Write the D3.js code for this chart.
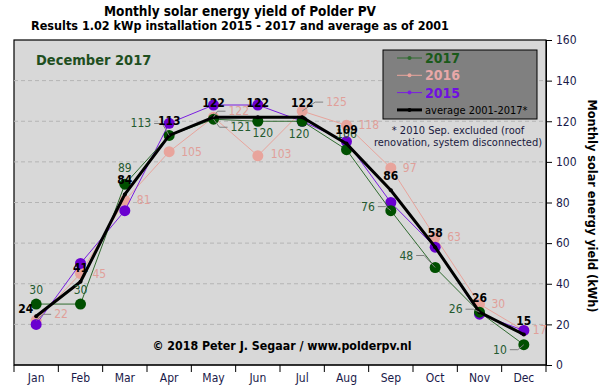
<!DOCTYPE html>
<html>
<head>
<meta charset="utf-8">
<script src="https://cdn.jsdelivr.net/npm/d3@7"></script>
<style>
  body { margin: 0; background: #fff; }
  svg { font-family: "DejaVu Sans Condensed", "DejaVu Sans", Verdana, sans-serif; font-stretch: condensed; }
</style>
</head>
<body>
<div id="chart"></div>
<script>
// data
const months = ["Jan", "Feb", "Mar", "Apr", "May", "Jun", "Jul", "Aug", "Sep", "Oct", "Nov", "Dec"];
const y2017 = [30, 30, 89, 113, 121, 120, 120, 106, 76, 48, 26, 10];
const y2016 = [22, 45, 81, 105, 122, 103, 125, 118, 97, 63, 30, 17];
const y2015 = [20, 50, 76, 119, 128, 128, 120, 110, 80, 58, 25, 17];
const average = [24, 41, 84, 113, 122, 122, 122, 109, 86, 58, 26, 15];
const yTicks = [0, 20, 40, 60, 80, 100, 120, 140, 160];

const W = 611, H = 391;
const plot = { left: 14, right: 546, top: 40, bottom: 365 };

const svg = d3.select("#chart").append("svg")
    .attr("width", W).attr("height", H);

let xScale = d3.scaleBand().domain(months).range([plot.left, plot.right]).padding(0);
let cx = m => xScale(m) + xScale.bandwidth() / 2;
let yScale = d3.scaleLinear().domain([0, 160]).range([plot.bottom, plot.top]);

// plot background
svg.append("rect")
    .attr("x", plot.left).attr("y", plot.top)
    .attr("width", plot.right - plot.left).attr("height", plot.bottom - plot.top)
    .attr("fill", "#d8d8d8").attr("stroke", "#000").attr("stroke-width", 1.2);

// grid lines
svg.append("g").selectAll("line")
    .data(yTicks.filter(t => t > 0 && t < 160))
    .enter().append("line")
    .attr("x1", plot.left).attr("x2", plot.right)
    .attr("y1", d => yScale(d)).attr("y2", d => yScale(d))
    .attr("stroke", "#b4b4b4").attr("stroke-dasharray", "4,3");

// right axis
let yAxis = d3.axisRight(yScale).tickValues(yTicks).tickSize(6).tickPadding(4);
let gy = svg.append("g").attr("transform", "translate(" + plot.right + ",0)").call(yAxis);
gy.select(".domain").attr("stroke", "#000");
gy.selectAll(".tick line").attr("stroke", "#000");
gy.selectAll(".tick text").attr("fill", "#1a1a4a").style("font-size", "12px")
    .style("font-family", "DejaVu Sans Condensed");

// bottom axis: ticks between months
let gx = svg.append("g");
gx.append("line").attr("x1", plot.left).attr("x2", plot.right)
    .attr("y1", plot.bottom).attr("y2", plot.bottom).attr("stroke", "#000");
gx.selectAll(".sep").data(months.concat(["end"])).enter().append("line")
    .attr("x1", (d, i) => i < 12 ? xScale(d) : plot.right)
    .attr("x2", (d, i) => i < 12 ? xScale(d) : plot.right)
    .attr("y1", plot.bottom).attr("y2", plot.bottom + 7)
    .attr("stroke", "#000");
gx.selectAll(".lab").data(months).enter().append("text")
    .attr("x", d => cx(d)).attr("y", plot.bottom + 17)
    .attr("text-anchor", "middle")
    .attr("fill", "#1a1a4a").style("font-size", "12px")
    .text(d => d);

// titles
svg.append("text").attr("x", 240).attr("y", 16).attr("text-anchor", "middle")
    .style("font-size", "13.5px").style("font-weight", "bold")
    .text("Monthly solar energy yield of Polder PV");
svg.append("text").attr("x", 240).attr("y", 30).attr("text-anchor", "middle")
    .style("font-size", "12.5px").style("font-weight", "bold")
    .text("Results 1.02 kWp installation  2015 - 2017 and average as of 2001");

svg.append("text")
    .attr("transform", "translate(588,206) rotate(90)")
    .attr("text-anchor", "middle")
    .attr("textLength", 213).attr("lengthAdjust", "spacingAndGlyphs")
    .style("font-size", "11.5px").style("font-weight", "bold")
    .text("Monthly solar energy yield (kWh)");

svg.append("text").attr("x", 36).attr("y", 65)
    .attr("fill", "#1f4f1f").style("font-size", "14.5px").style("font-weight", "bold")
    .text("December 2017");

svg.append("text").attr("x", 282).attr("y", 350).attr("text-anchor", "middle")
    .style("font-size", "12.3px").style("font-weight", "bold")
    .text("\u00a9 2018 Peter J. Segaar / www.polderpv.nl");

// series
let line = d3.line()
    .x((d, i) => cx(months[i]))
    .y(d => yScale(d));

const series = [
    { name: "2016", values: y2016, color: "#e8a49c", dot: "#e8a49c" },
    { name: "2015", values: y2015, color: "#7a1ee0", dot: "#6a00d0" },
    { name: "2017", values: y2017, color: "#2f6a2f", dot: "#005000" }
];

series.forEach(s => {
    svg.append("path")
        .attr("d", line(s.values))
        .attr("fill", "none").attr("stroke", s.color).attr("stroke-width", 1);
    svg.append("g").selectAll("circle").data(s.values).enter().append("circle")
        .attr("cx", (d, i) => cx(months[i]))
        .attr("cy", d => yScale(d))
        .attr("r", 5.5)
        .attr("fill", s.dot);
});

svg.append("path")
    .attr("d", line(average))
    .attr("fill", "none").attr("stroke", "#000").attr("stroke-width", 3);
svg.append("g").selectAll("circle").data(average).enter().append("circle")
    .attr("cx", (d, i) => cx(months[i]))
    .attr("cy", d => yScale(d))
    .attr("r", 2).attr("fill", "#000");

// labels: [dx, dy, anchor, leader line]
let greenPlace = { Jan: [0, -10, "middle"], Feb: [0, -10, "middle"], Mar: [0, -12, "middle"],
    Apr: [-18, -8, "end", true], May: [17, 12, "start", true], Jun: [5, 16, "middle"],
    Jul: [-3, 17, "middle"], Aug: [0, -12, "middle"], Sep: [-16, 0, "end", true],
    Oct: [-22, -8, "end", true], Nov: [-17, 1, "end", true], Dec: [-17, 9, "end", true] };
let pinkPlace = { Jan: [18, -2, "start", true], May: [15, -2, "start", true], Jun: [13, 2, "start"],
    Jul: [24, -5, "start", true], Dec: [9, 4, "start"] };
let blackPlace = { Jan: [-3, -3, "end"], Mar: [0, -10, "middle"] };

function addLabel(m, v, p, color, weight) {
    let x = cx(m), y = yScale(v);
    let tx = x + p[0], ty = y + p[1];
    if (p[3]) {
        let sgn = p[2] === "end" ? 1 : -1;
        let lx0 = tx + sgn * 3, lx1 = tx + sgn * 11, ly = ty - 4;
        svg.append("polyline")
            .attr("points", [[lx0, ly], [lx1, ly], [x, y]].join(" "))
            .attr("fill", "none").attr("stroke", "#808080");
    }
    svg.append("text").attr("x", tx).attr("y", ty)
        .attr("text-anchor", p[2])
        .attr("fill", color).style("font-size", "12px").style("font-weight", weight)
        .text(v);
}

months.forEach((m, i) => {
    addLabel(m, y2016[i], pinkPlace[m] || [12, 4, "start"], "#e0a09a", "normal");
});
months.forEach((m, i) => {
    addLabel(m, y2017[i], greenPlace[m], "#245a30", "normal");
});
months.forEach((m, i) => {
    addLabel(m, average[i], blackPlace[m] || [0, -10, "middle"], "#000", "bold");
});

// legend
let leg = svg.append("g").attr("transform", "translate(383,50)");
leg.append("rect").attr("width", 154).attr("height", 69)
    .attr("fill", "#808080").attr("stroke", "#000");
const legendItems = [
    { name: "2017", color: "#2f6a2f", text: "#1a5a1a", big: true },
    { name: "2016", color: "#e8a49c", text: "#e8a8a8", big: true },
    { name: "2015", color: "#7a1ee0", text: "#7010e0", big: true },
    { name: "average 2001-2017*", color: "#000", text: "#000", big: false }
];
legendItems.forEach((d, i) => {
    let ly = 8 + i * 17.3;
    leg.append("line").attr("x1", 14).attr("x2", 39).attr("y1", ly).attr("y2", ly)
        .attr("stroke", d.color).attr("stroke-width", d.big ? 1 : 3);
    leg.append("circle").attr("cx", 26.5).attr("cy", ly).attr("r", 2).attr("fill", d.color);
    leg.append("text").attr("x", 42).attr("y", ly + (d.big ? 5 : 4))
        .attr("fill", d.text)
        .style("font-size", d.big ? "14px" : "11px")
        .style("font-weight", d.big ? "bold" : "normal")
        .text(d.name);
});

svg.append("text").attr("x", 458).attr("y", 134).attr("text-anchor", "middle")
    .attr("fill", "#1a1a40").style("font-size", "11px")
    .text("* 2010 Sep. excluded (roof");
svg.append("text").attr("x", 458).attr("y", 146).attr("text-anchor", "middle")
    .attr("fill", "#1a1a40").style("font-size", "11px")
    .text("renovation, system disconnected)");
</script>
</body>
</html>
